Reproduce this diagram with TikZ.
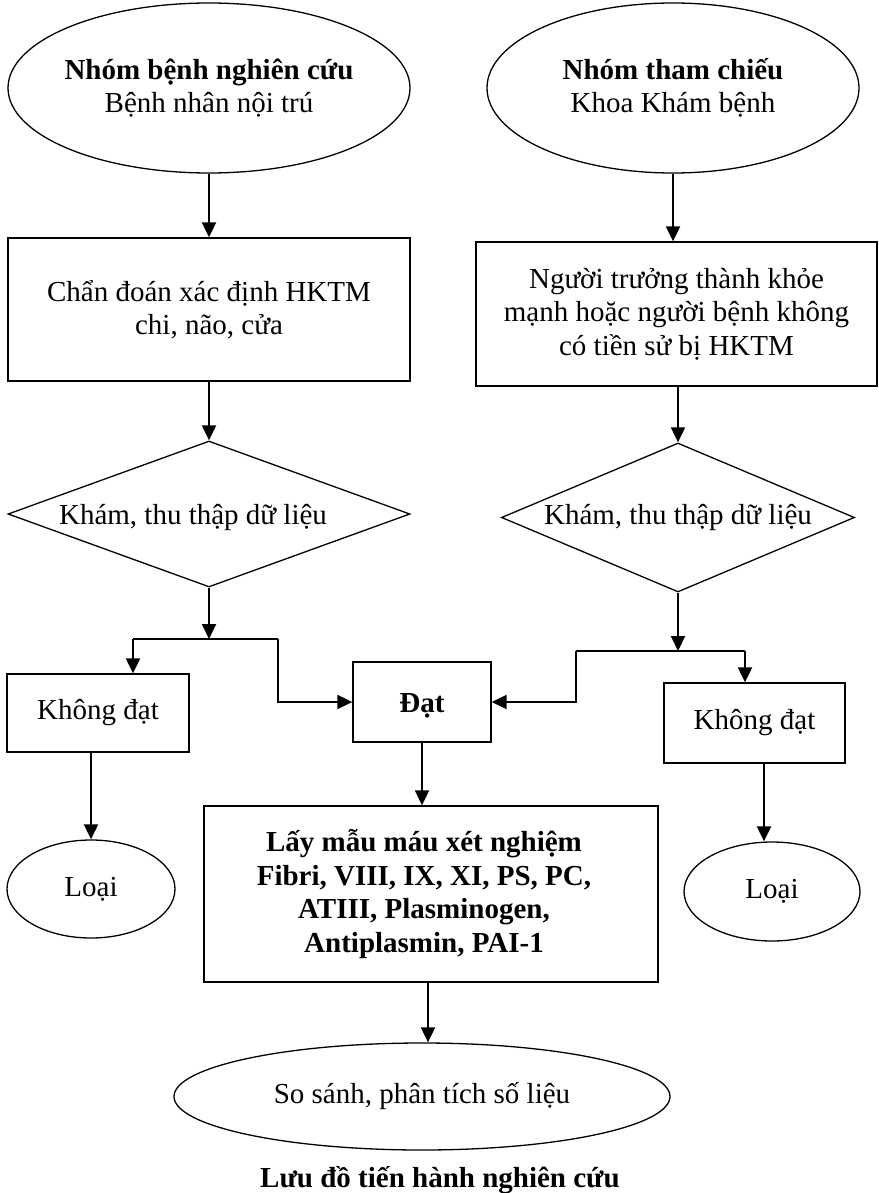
\documentclass[tikz,border=0pt]{standalone}
\usepackage{fontspec}
\setmainfont{Liberation Serif}
\usetikzlibrary{shapes.geometric,arrows.meta}
\begin{document}
\begin{tikzpicture}[x=1pt,y=-1pt,
  every node/.style={font=\fontsize{29}{33.5}\selectfont, inner sep=0pt},
  shp/.style={draw, line width=1.3pt},
  oval/.style={shp, ellipse},
  boxn/.style={shp, rectangle, align=center},
  dia/.style={shp, diamond},
  txt/.style={align=center, font=\fontsize{29}{33.5}\selectfont},
  arr/.style={line width=2pt, -{Triangle[length=15pt,width=14pt]}},
  ln/.style={line width=2pt}]
\useasboundingbox (0,0) rectangle (878,1193);
% left column
\node[oval, minimum width=402, minimum height=170,
  label={[txt]center:{\textbf{Nhóm bệnh nghiên cứu}\\Bệnh nhân nội trú}}] (e1) at (209,88) {};
\node[boxn, minimum width=402, minimum height=143] (b1) at (209,309.5) {Chẩn đoán xác định HKTM\\chi, não, cửa};
\node[dia, minimum width=402, minimum height=146,
  label={[txt,xshift=-16pt,yshift=-3pt]center:{Khám, thu thập dữ liệu}}] (d1) at (209,514) {};
\node[boxn, minimum width=182, minimum height=78] (kd1) at (98,713) {Không đạt};
\node[oval, minimum width=168, minimum height=98] (l1) at (91,889) {Loại};
% right column
\node[oval, minimum width=372, minimum height=170,
  label={[txt]center:{\textbf{Nhóm tham chiếu}\\Khoa Khám bệnh}}] (e2) at (673,88) {};
\node[boxn, minimum width=401, minimum height=144] (b2) at (676.5,314) {Người trưởng thành khỏe\\mạnh hoặc người bệnh không\\có tiền sử bị HKTM};
\node[dia, minimum width=353, minimum height=149,
  label={[txt]center:{Khám, thu thập dữ liệu}}] (d2) at (678,517.5) {};
\node[boxn, minimum width=181, minimum height=80] (kd2) at (754.5,723) {Không đạt};
\node[oval, minimum width=176, minimum height=99] (l2) at (772,891.5) {Loại};
% middle
\node[boxn, minimum width=138, minimum height=80,
  label={[txt,yshift=-4pt]center:{\textbf{Đạt}}}] (dat) at (422,702) {};
\node[boxn, minimum width=454, minimum height=176,
  label={[txt,xshift=-7pt]center:{\textbf{Lấy mẫu máu xét nghiệm}\\\textbf{Fibri, VIII, IX, XI, PS, PC,}\\\textbf{ATIII, Plasminogen,}\\\textbf{Antiplasmin, PAI-1}}}] (big) at (431,894) {};
\node[oval, minimum width=496, minimum height=107] (fin) at (422,1096.5) {So sánh, phân tích số liệu};
\node[anchor=base] (cap) at (440,1187) {\textbf{Lưu đồ tiến hành nghiên cứu}};
% junctions
\coordinate (j1) at (209,639);
\coordinate (j1l) at (133,639);
\coordinate (j1r) at (278,639);
\coordinate (j2) at (678,651);
\coordinate (j2l) at (576,651);
\coordinate (j2r) at (745,651);
% connectors
\draw[arr] (e1.south) -- (b1.north);
\draw[arr] (b1.south) -- (d1.north);
\draw[arr] (d1.south) -- (j1);
\draw[ln] (j1l) -- (j1r);
\draw[arr] (j1l) -- (j1l |- kd1.north);
\draw[arr] (j1r) |- (dat.west);
\draw[arr] (kd1.south -| l1.north) -- (l1.north);
\draw[arr] (e2.south) -- (e2.south |- b2.north);
\draw[arr] (b2.south -| d2.north) -- (d2.north);
\draw[arr] (d2.south) -- (j2);
\draw[ln] (j2l) -- (j2r);
\draw[arr] (j2r) -- (j2r |- kd2.north);
\draw[arr] (j2l) |- (dat.east);
\draw[arr] ([xshift=9.5pt]kd2.south) -- ([xshift=9.5pt]kd2.south |- l2.north);
\draw[arr] (dat.south) -- (dat.south |- big.north);
\draw[arr] ([xshift=-3pt]big.south) -- ([xshift=-3pt]big.south |- fin.north);
\end{tikzpicture}
\end{document}
